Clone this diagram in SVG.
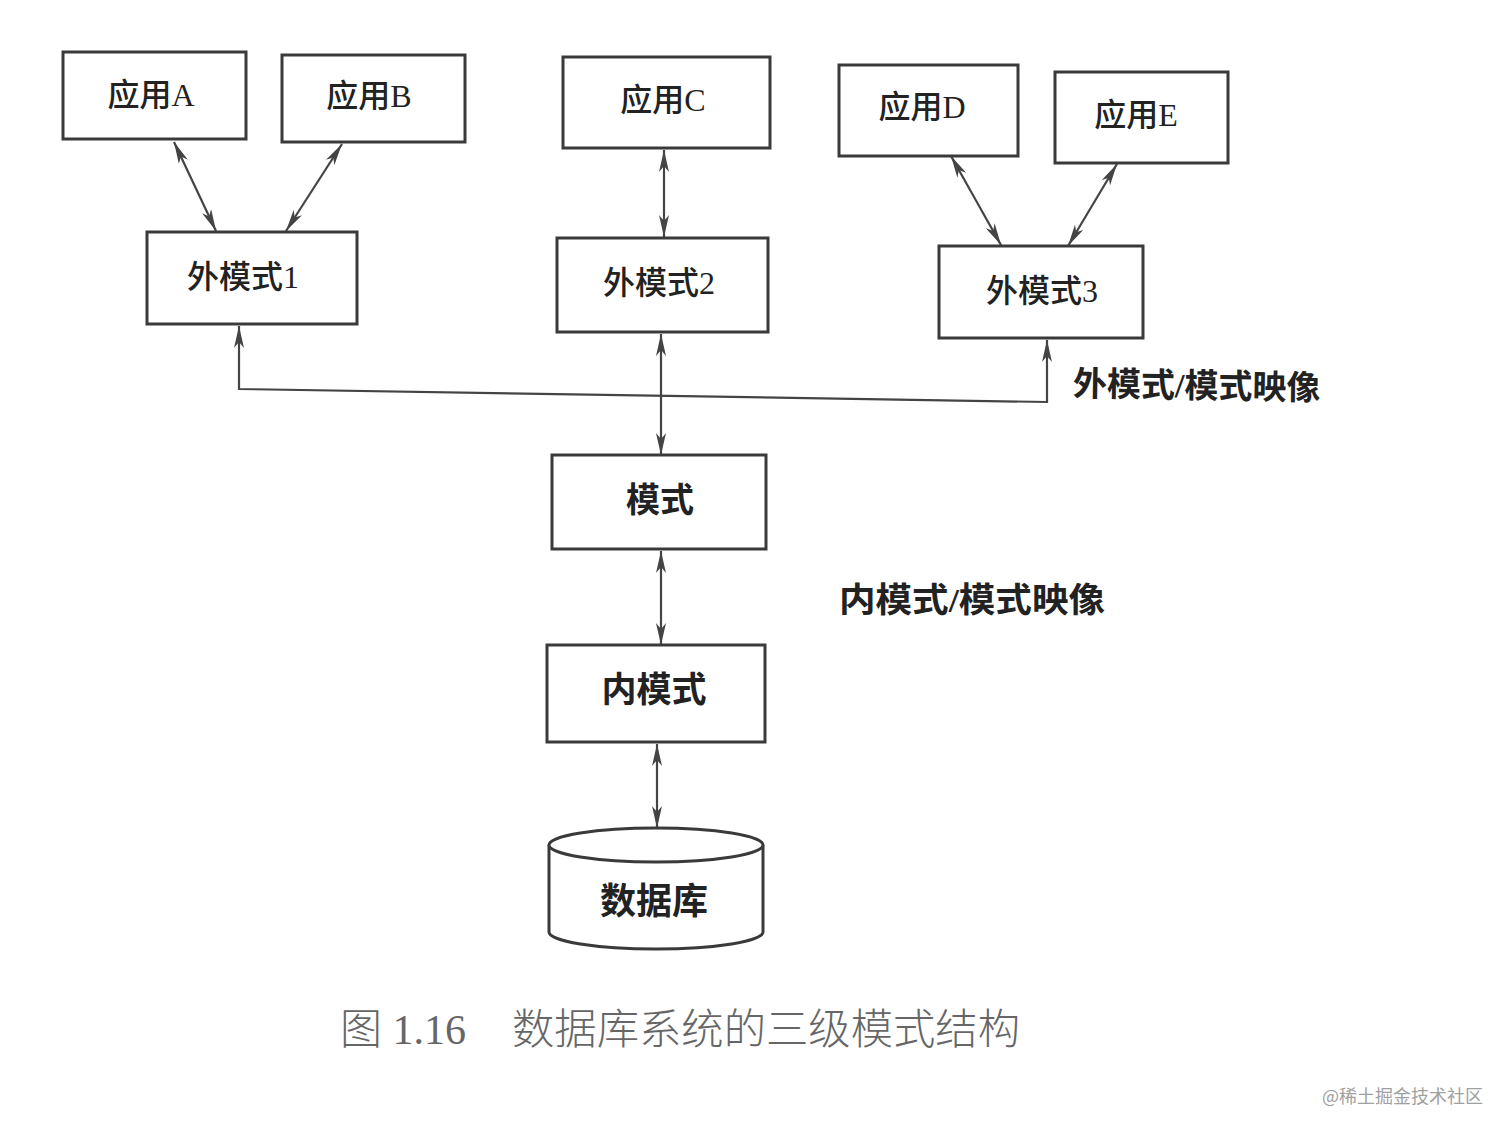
<svg xmlns="http://www.w3.org/2000/svg" width="1512" height="1134" viewBox="0 0 1512 1134">
<defs>
<style>
.box{fill:#fff;stroke:#3a3a3a;stroke-width:3}
.lbl{font-family:"Liberation Serif","Noto Sans CJK SC",serif;font-size:32px;font-weight:500;fill:#222;text-anchor:middle;dominant-baseline:central}
.bold{font-weight:bold}
.conn{fill:none;stroke:#444;stroke-width:2.2}
.note{font-family:"Liberation Serif","Noto Sans CJK SC",serif;font-size:34px;font-weight:bold;fill:#222;dominant-baseline:central}
.cap{font-family:"Liberation Serif","Noto Sans CJK SC",serif;font-size:42px;fill:#666;font-weight:300;dominant-baseline:central}
.wm{font-family:"Noto Sans CJK SC",sans-serif;font-size:18px;fill:#a0a0a0;dominant-baseline:central}
</style>
<marker id="ah" viewBox="0 0 22 10" refX="22" refY="5" markerWidth="22" markerHeight="10" markerUnits="userSpaceOnUse" orient="auto-start-reverse">
<path d="M0,0 L22,5 L0,10 L6,5 Z" fill="#444"/>
</marker>
</defs>
<rect width="1512" height="1134" fill="#fff"/>

<g id="connectors">
<line class="conn" x1="174" y1="142" x2="216" y2="231" marker-start="url(#ah)" marker-end="url(#ah)"/>
<line class="conn" x1="342" y1="144" x2="286" y2="231" marker-start="url(#ah)" marker-end="url(#ah)"/>
<line class="conn" x1="664" y1="150" x2="664" y2="237" marker-start="url(#ah)" marker-end="url(#ah)"/>
<line class="conn" x1="951" y1="156" x2="1001" y2="245" marker-start="url(#ah)" marker-end="url(#ah)"/>
<line class="conn" x1="1117" y1="164" x2="1068" y2="246" marker-start="url(#ah)" marker-end="url(#ah)"/>
<line class="conn" x1="661" y1="334" x2="661" y2="455" marker-start="url(#ah)" marker-end="url(#ah)"/>
<polyline class="conn" points="239,326 239,389 1047,402 1047,340" marker-start="url(#ah)" marker-end="url(#ah)"/>
<line class="conn" x1="661" y1="551" x2="661" y2="645" marker-start="url(#ah)" marker-end="url(#ah)"/>
<line class="conn" x1="657" y1="744" x2="657" y2="828" marker-start="url(#ah)" marker-end="url(#ah)"/>
</g>

<g id="appA"><rect class="box" x="63" y="52" width="183" height="87"/><text class="lbl" x="151" y="95">应用A</text></g>
<g id="appB"><rect class="box" x="282" y="55" width="183" height="87"/><text class="lbl" x="369" y="96">应用B</text></g>
<g id="appC"><rect class="box" x="563" y="57" width="207" height="91"/><text class="lbl" x="663" y="100">应用C</text></g>
<g id="appD"><rect class="box" x="839" y="65" width="179" height="91"/><text class="lbl" x="922" y="107">应用D</text></g>
<g id="appE"><rect class="box" x="1055" y="72" width="173" height="91"/><text class="lbl" x="1136" y="115">应用E</text></g>

<g id="ext1"><rect class="box" x="147" y="232" width="210" height="92"/><text class="lbl" x="243" y="277">外模式1</text></g>
<g id="ext2"><rect class="box" x="557" y="238" width="211" height="94"/><text class="lbl" x="659" y="283">外模式2</text></g>
<g id="ext3"><rect class="box" x="939" y="246" width="204" height="92"/><text class="lbl" x="1042" y="291">外模式3</text></g>

<g id="schema"><rect class="box" x="552" y="455" width="214" height="94"/><text class="lbl bold" x="660" y="500" style="font-size:34px">模式</text></g>
<g id="internal"><rect class="box" x="547" y="645" width="218" height="97"/><text class="lbl bold" x="654" y="690" style="font-size:35px">内模式</text></g>

<g id="database">
<path class="box" d="M549,845 L549,932 A107,17 0 0 0 763,932 L763,845"/>
<ellipse class="box" cx="656" cy="845" rx="107" ry="17"/>
<text class="lbl bold" x="654" y="902" style="font-size:36px">数据库</text>
</g>

<g id="labels">
<text class="note" x="1073" y="384" transform="rotate(1 1073 384)">外模式/模式映像</text>
<text class="note" x="839" y="600" textLength="266" lengthAdjust="spacingAndGlyphs">内模式/模式映像</text>
<text class="cap" x="340" y="1030"><tspan>图 1.16</tspan><tspan x="512" textLength="508" lengthAdjust="spacingAndGlyphs">数据库系统的三级模式结构</tspan></text>
<text class="wm" x="1322" y="1095">@稀土掘金技术社区</text>
</g>
</svg>
